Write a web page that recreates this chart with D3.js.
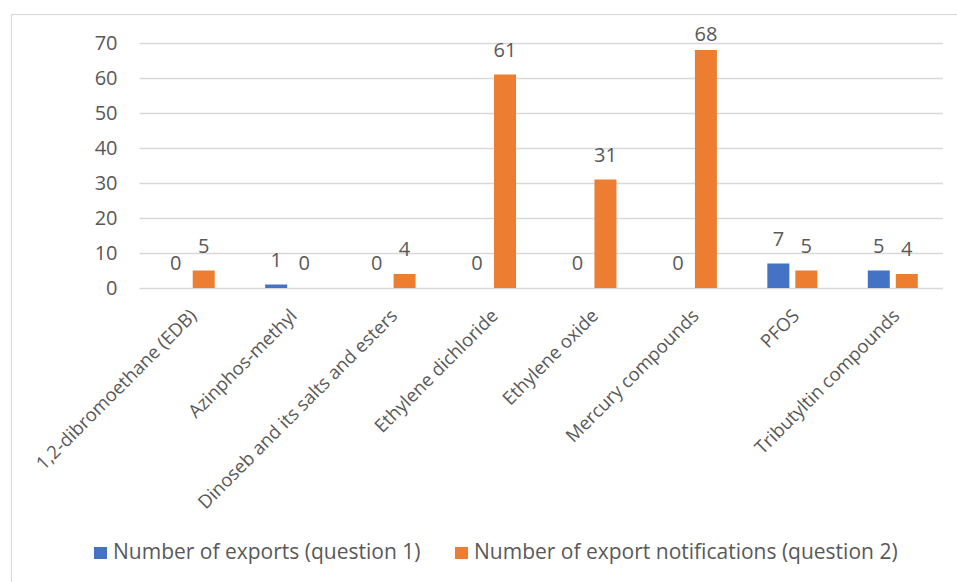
<!DOCTYPE html>
<html>
<head>
<meta charset="utf-8">
<script src="https://cdn.jsdelivr.net/npm/d3@7"></script>
<style>
  html, body { margin: 0; padding: 0; background: #fff; }
  svg { display: block; }
  text { font-family: "Open Sans", "Noto Sans", sans-serif; fill: #595959; }
</style>
</head>
<body>
<svg id="chart" width="957" height="582"></svg>
<script>
const categories = [
  "1,2-dibromoethane (EDB)",
  "Azinphos-methyl",
  "Dinoseb and its salts and esters",
  "Ethylene dichloride",
  "Ethylene oxide",
  "Mercury compounds",
  "PFOS",
  "Tributyltin compounds"
];
const exportsQ1 = [0, 1, 0, 0, 0, 0, 7, 5];
const notificationsQ2 = [5, 0, 4, 61, 31, 68, 5, 4];
const seriesNames = ["Number of exports (question 1)", "Number of export notifications (question 2)"];
const seriesColors = ["#4472C4", "#ED7D31"];
const yTicks = [0, 10, 20, 30, 40, 50, 60, 70];

const svg = d3.select("#chart");
const plot = { left: 139.5, right: 943, top: 43, bottom: 288 };

// frame
svg.append("rect")
  .attr("x", 11.5).attr("y", 14.5)
  .attr("width", 980).attr("height", 620)
  .attr("fill", "#fff").attr("stroke", "#d9d9d9").attr("stroke-width", 1.2);

const x = d3.scaleBand().domain(categories).range([plot.left, plot.right]);
const x1 = d3.scaleBand().domain(seriesNames).range([-25, 25]).paddingInner(0.214);
const y = d3.scaleLinear().domain([0, 70]).range([plot.bottom, plot.top]);

// gridlines + y tick labels
const yAxis = d3.axisLeft(y).tickValues(yTicks)
  .tickSize(-(plot.right - plot.left)).tickPadding(22).tickFormat(d3.format("d"));
const gy = svg.append("g").attr("transform", `translate(${plot.left},0)`).call(yAxis);
gy.select(".domain").remove();
gy.selectAll(".tick line").attr("stroke", "#d9d9d9").attr("stroke-width", 1.4);
gy.selectAll(".tick text").attr("font-size", 20).attr("fill", "#595959")
  .style("font-family", '"Open Sans", "Noto Sans", sans-serif');

// bars
const rows = categories.map((c, i) => ({ cat: c, vals: [exportsQ1[i], notificationsQ2[i]] }));
const groups = svg.append("g").selectAll("g").data(rows).join("g")
  .attr("transform", d => `translate(${x(d.cat) + x.bandwidth() / 2},0)`);

groups.selectAll("rect").data(d => d.vals.map((v, k) => ({ v, k })))
  .join("rect")
  .attr("x", d => x1(seriesNames[d.k]))
  .attr("width", x1.bandwidth())
  .attr("y", d => y(d.v))
  .attr("height", d => y(0) - y(d.v))
  .attr("fill", d => seriesColors[d.k]);

groups.selectAll("text.val").data(d => d.vals.map((v, k) => ({ v, k })))
  .join("text").attr("class", "val")
  .attr("x", d => x1(seriesNames[d.k]) + x1.bandwidth() / 2)
  .attr("y", d => Math.max(y(d.v) - 18, 41))
  .attr("text-anchor", "middle")
  .attr("font-size", 20)
  .text(d => d.v);

// category labels
svg.append("g").selectAll("text").data(categories).join("text")
  .attr("transform", d => `translate(${x(d) + x.bandwidth() / 2 + 8},317) rotate(-45)`)
  .attr("text-anchor", "end")
  .attr("font-size", 18.5)
  .text(d => d);

// legend
const legendItems = [{ x: 94 }, { x: 455 }];
const lg = svg.append("g").selectAll("g").data(seriesNames).join("g")
  .attr("transform", (d, i) => `translate(${legendItems[i].x},0)`);
lg.append("rect").attr("x", 0).attr("y", 547).attr("width", 13).attr("height", 12)
  .attr("fill", (d, i) => seriesColors[i]);
lg.append("text").attr("x", 19).attr("y", 559).attr("font-size", 21).text(d => d);
</script>
</body>
</html>
